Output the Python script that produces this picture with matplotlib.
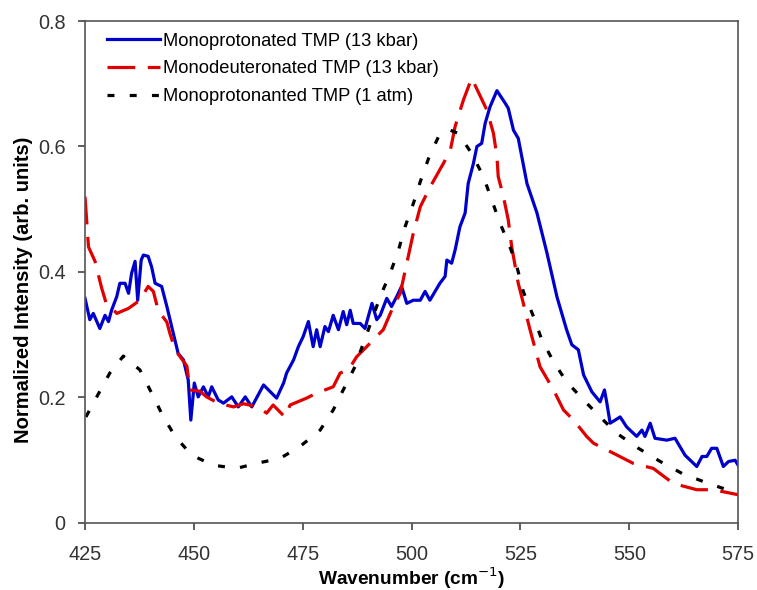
import numpy as np
import matplotlib
matplotlib.use('Agg')
import matplotlib.pyplot as plt

plt.rcParams['font.family'] = ['Liberation Sans', 'DejaVu Sans']
plt.rcParams['lines.scale_dashes'] = False

# Monoprotonated TMP (13 kbar)
blue_x = [425.0, 426.1, 426.9, 428.4, 429.6, 430.4, 431.1, 432.3, 433.0, 434.2, 435.0, 435.7,
          436.5, 437.1, 437.9, 438.4, 439.5, 440.3, 441.1, 442.6, 443.8, 444.9, 446.4, 447.6,
          448.7, 449.3, 450.1, 451.0, 452.2, 453.3, 454.1, 455.6, 456.8, 458.7, 460.2, 461.8,
          463.3, 466.0, 469.0, 470.6, 471.3, 472.9, 474.0, 475.1, 476.3, 477.4, 478.2, 479.0,
          480.1, 480.9, 482.0, 483.2, 484.3, 485.1, 485.9, 486.6, 488.2, 489.3, 490.9, 492.0,
          492.8, 494.3, 495.4, 496.6, 497.7, 498.9, 500.4, 502.0, 503.1, 504.2, 506.5, 507.7,
          508.1, 509.2, 510.0, 511.1, 512.3, 513.0, 514.2, 515.0, 516.1, 516.9, 518.0, 519.6,
          521.5, 522.2, 523.4, 524.5, 526.5, 528.8, 531.1, 533.4, 535.6, 536.8, 538.3, 539.5,
          541.4, 543.3, 544.3, 544.8, 545.6, 547.9, 549.4, 551.7, 552.9, 553.6, 554.8, 555.9,
          558.6, 560.5, 562.8, 565.5, 566.7, 567.8, 568.9, 570.1, 571.6, 572.8, 574.3, 575.0]
blue_y = [0.358, 0.324, 0.334, 0.310, 0.331, 0.321, 0.339, 0.361, 0.382, 0.382, 0.366, 0.398,
          0.417, 0.355, 0.419, 0.427, 0.425, 0.408, 0.382, 0.377, 0.345, 0.313, 0.270, 0.260,
          0.228, 0.164, 0.223, 0.201, 0.217, 0.201, 0.217, 0.196, 0.191, 0.201, 0.185, 0.201,
          0.185, 0.220, 0.199, 0.223, 0.239, 0.260, 0.281, 0.297, 0.321, 0.281, 0.308, 0.281,
          0.313, 0.305, 0.331, 0.308, 0.337, 0.316, 0.339, 0.318, 0.318, 0.310, 0.350, 0.324,
          0.331, 0.358, 0.345, 0.361, 0.377, 0.350, 0.355, 0.355, 0.369, 0.355, 0.382, 0.393,
          0.419, 0.414, 0.435, 0.472, 0.494, 0.541, 0.573, 0.600, 0.605, 0.637, 0.663, 0.689,
          0.669, 0.661, 0.626, 0.613, 0.541, 0.494, 0.430, 0.360, 0.308, 0.284, 0.276, 0.236,
          0.209, 0.193, 0.212, 0.193, 0.159, 0.169, 0.153, 0.138, 0.148, 0.138, 0.159, 0.135,
          0.132, 0.135, 0.108, 0.090, 0.106, 0.106, 0.119, 0.119, 0.090, 0.098, 0.100, 0.092]

# Monodeuteronated TMP (13 kbar)
red_x = [425.0, 425.8, 427.3, 428.8, 430.0, 431.9, 432.3, 435.0, 437.6, 439.5, 440.7, 441.8,
         443.8, 444.5, 445.7, 448.4, 449.1, 451.4, 452.9, 455.6, 459.1, 461.4, 464.8, 466.7,
         468.2, 470.9, 472.1, 475.9, 478.2, 482.0, 483.6, 485.5, 487.4, 489.7, 491.2, 493.5,
         495.8, 497.4, 498.9, 500.4, 502.0, 504.3, 507.3, 508.9, 510.0, 511.9, 513.8, 517.3,
         518.8, 519.6, 519.9, 521.1, 522.2, 523.0, 524.5, 527.2, 529.5, 532.6, 534.9, 537.2,
         540.2, 541.8, 546.4, 550.9, 555.5, 560.1, 565.5, 569.3, 575.0]
red_y = [0.520, 0.440, 0.417, 0.375, 0.347, 0.337, 0.334, 0.342, 0.355, 0.377, 0.369, 0.339,
         0.320, 0.302, 0.276, 0.250, 0.212, 0.210, 0.201, 0.191, 0.185, 0.190, 0.185, 0.175,
         0.188, 0.169, 0.188, 0.199, 0.207, 0.217, 0.239, 0.244, 0.265, 0.281, 0.292, 0.308,
         0.345, 0.366, 0.414, 0.462, 0.504, 0.536, 0.573, 0.594, 0.632, 0.674, 0.709, 0.658,
         0.621, 0.584, 0.552, 0.520, 0.483, 0.440, 0.382, 0.308, 0.249, 0.212, 0.180, 0.164,
         0.138, 0.127, 0.111, 0.095, 0.087, 0.063, 0.053, 0.053, 0.045]

# Monoprotonanted TMP (1 atm)
black_x = [425.2, 427.7, 430.7, 433.8, 437.6, 440.3, 443.0, 445.7, 449.5, 454.5, 459.8, 464.4,
           469.8, 474.4, 479.0, 482.0, 484.3, 487.0, 488.9, 490.9, 492.8, 495.1, 497.0, 498.5,
           500.4, 502.0, 503.9, 506.2, 508.5, 510.7, 513.8, 516.5, 518.4, 520.3, 522.6, 524.2,
           525.7, 528.0, 529.9, 532.6, 535.6, 539.5, 543.3, 547.1, 552.1, 557.1, 562.1, 567.0,
           572.4, 575.0]
black_y = [0.169, 0.201, 0.239, 0.266, 0.244, 0.207, 0.169, 0.138, 0.108, 0.092, 0.087, 0.095,
           0.103, 0.122, 0.148, 0.180, 0.212, 0.249, 0.286, 0.324, 0.361, 0.398, 0.435, 0.472,
           0.509, 0.544, 0.581, 0.616, 0.627, 0.621, 0.589, 0.552, 0.515, 0.478, 0.440, 0.408,
           0.368, 0.329, 0.292, 0.257, 0.225, 0.196, 0.169, 0.143, 0.119, 0.098, 0.079, 0.066,
           0.053, 0.050]

labels = ['Monoprotonated TMP (13 kbar)', 'Monodeuteronated TMP (13 kbar)',
          'Monoprotonanted TMP (1 atm)']

fig = plt.figure(figsize=(7.57, 5.90), dpi=100)
ax = fig.add_axes([0.1123, 0.1136, 0.8628, 0.8508])

ax.plot(blue_x, blue_y, color='#0000CC', lw=2.3, label=labels[0])
ax.plot(red_x, red_y, color='#E00000', lw=2.3, dashes=(20, 9), label=labels[1])
ax.plot(black_x, black_y, color='black', lw=2.3, dashes=(5, 11), label=labels[2])

ax.set_xlim(425, 575)
ax.set_ylim(0, 0.8)
ax.set_xticks([425, 450, 475, 500, 525, 550, 575])
ax.set_yticks([0, 0.2, 0.4, 0.6, 0.8])
ax.set_yticklabels(['0', '0.2', '0.4', '0.6', '0.8'])
ax.tick_params(direction='out', length=5, width=1.2, color='#444444',
               labelsize=14.3, labelcolor='#333333')
ax.tick_params(axis='x', pad=11)
ax.tick_params(axis='y', pad=9)
for s in ax.spines.values():
    s.set_color('#555555')
    s.set_linewidth(1.2)

ax.set_xlabel('Wavenumber (cm$^{-1}$)', fontsize=13.8, fontweight='bold', labelpad=1)
ax.set_ylabel('Normalized Intensity (arb. units)', fontsize=14.5, fontweight='bold')
ax.yaxis.set_label_coords(-0.079, 0.464)

ax.legend(loc='upper left', bbox_to_anchor=(0.012, 1.004), frameon=False, fontsize=13.2,
          handlelength=2.9, handletextpad=0.15, labelspacing=0.58, borderaxespad=0.45,
          borderpad=0.3)

fig.savefig('out.png', dpi=100)
